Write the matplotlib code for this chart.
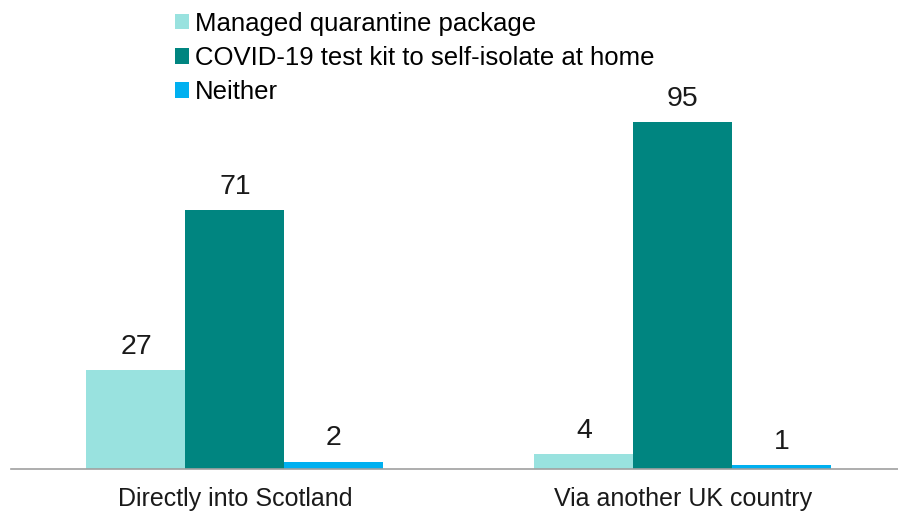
import numpy as np
import matplotlib.pyplot as plt

plt.rcParams['font.family'] = ['Liberation Sans', 'DejaVu Sans']

categories = ["Directly into Scotland", "Via another UK country"]
series_names = ["Managed quarantine package",
                "COVID-19 test kit to self-isolate at home",
                "Neither"]
managed = [27, 4]
test_kit = [71, 95]
neither = [2, 1]
colors = ["#99E2DF", "#008580", "#00B0F0"]

W, H = 898, 514
fig = plt.figure(figsize=(W / 100, H / 100), dpi=100)
ax = fig.add_axes([11 / W, 45 / H, 887 / W, 469 / H])

x = np.arange(len(categories))
bw = 0.221
for i, (vals, name) in enumerate(zip([managed, test_kit, neither], series_names)):
    pos = x + (i - 1) * bw
    bars = ax.bar(pos, vals, width=bw, color=colors[i], label=name)
    for b, v in zip(bars, vals):
        ax.text(b.get_x() + b.get_width() / 2, v + 2.8, str(v),
                ha='center', va='bottom', fontsize=20.5, color='#1a1a1a')

ax.set_xlim(-0.5, 1.48)
ax.set_ylim(0, 128.5)
ax.set_yticks([])
ax.set_xticks(x)
ax.set_xticklabels(categories, fontsize=18, color='#1a1a1a')
ax.tick_params(axis='x', length=0, pad=13)
for s in ['top', 'right', 'left']:
    ax.spines[s].set_visible(False)
ax.spines['bottom'].set_color('#a0a0a0')
ax.spines['bottom'].set_linewidth(1.2)

ax.legend(loc='upper left', bbox_to_anchor=(165 / 887 - 11 / 887, 0.997),
          frameon=False, fontsize=18.5, handlelength=0.55, handleheight=0.55,
          handletextpad=0.2, labelspacing=0.4, borderaxespad=0)

fig.savefig("out.png", dpi=100)
